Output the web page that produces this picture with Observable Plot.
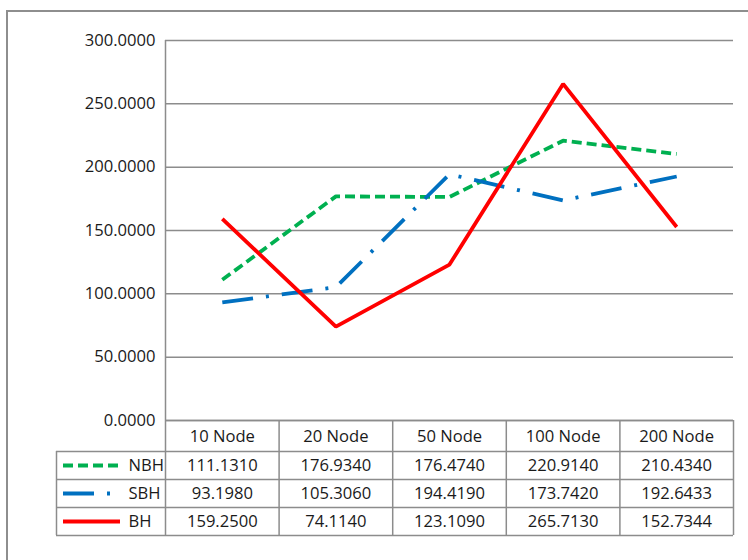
<!DOCTYPE html>
<html><head><meta charset="utf-8">
<script src="https://cdn.jsdelivr.net/npm/d3@7"></script>
<script src="https://cdn.jsdelivr.net/npm/@observablehq/plot@0.6"></script>
<style>
body{margin:0;background:#fff;overflow:hidden}
#wrap{position:relative;width:748px;height:560px;overflow:hidden;background:#fff}
#border{position:absolute;left:6px;top:10px;width:800px;height:600px;border:2px solid #8e8e8e;box-sizing:border-box}
#chart{position:absolute;left:0;top:0}
</style></head><body>
<div id="wrap"><div id="border"></div><div id="chart"></div></div>
<script>
// ---- data ----
const categories = ["10 Node", "20 Node", "50 Node", "100 Node", "200 Node"];
const seriesNames = ["NBH", "SBH", "BH"];
const nbh = [111.1310, 176.9340, 176.4740, 220.9140, 210.4340];
const sbh = [93.1980, 105.3060, 194.4190, 173.7420, 192.6433];
const bh  = [159.2500, 74.1140, 123.1090, 265.7130, 152.7344];
const yTicks = [0, 50, 100, 150, 200, 250, 300];

// ---- styles / layout ----
const seriesValues = [nbh, sbh, bh];
const seriesStyle = [
  {color: "#00B050", dash: "10,5", join: "round"},
  {color: "#0070C0", dash: "31,13,3,13", join: "round"},
  {color: "#FF0000", dash: null, join: "miter"}
];
const W = 748, H = 560;
const X0 = 165, X1 = 733, YT = 40, YB = 420;
const colW = (X1 - X0) / categories.length;
const xu = px => (px - X0) / colW - 0.5;          // pixel -> x units (table layout)
const yu = py => (YB - py) * 300 / (YB - YT);      // pixel -> y units (table layout)
const legendLeft = 56, tableBottom = 535;
const rowLines = [451, 479, 507, 535];
const rowCenters = [436, 465, 493, 521];
const grid = "#8c8c8c", ink = "#1a1a1a";
const fmt = d3.format(".4f");

const marks = [];
// gridlines
marks.push(Plot.ruleY(yTicks, {stroke: grid, strokeWidth: 1.5}));
// y tick labels
marks.push(Plot.text(yTicks, {x: -0.5, y: d => d, text: d => fmt(d), textAnchor: "end", dx: -10, fill: ink}));
// vertical axis / table column lines
marks.push(Plot.ruleX([-0.5], {y1: yu(tableBottom), y2: 300, stroke: grid, strokeWidth: 1.5}));
marks.push(Plot.ruleX(categories.map((c, i) => i + 0.5), {y1: yu(tableBottom), y2: 0, stroke: grid, strokeWidth: 1.5}));
marks.push(Plot.ruleX([xu(legendLeft)], {y1: yu(tableBottom), y2: yu(rowLines[0]), stroke: grid, strokeWidth: 1.5}));
// table horizontal lines
marks.push(Plot.ruleY([0], {x1: -0.5, x2: categories.length - 0.5, stroke: grid, strokeWidth: 1.5}));
marks.push(Plot.ruleY(rowLines.map(yu), {x1: xu(legendLeft), x2: categories.length - 0.5, stroke: grid, strokeWidth: 1.5}));
// header
marks.push(Plot.text(categories, {x: (d, i) => i, y: yu(rowCenters[0]), text: d => d, fill: ink}));
// rows
seriesNames.forEach((name, s) => {
  const st = seriesStyle[s];
  const yRow = yu(rowCenters[s + 1]);
  marks.push(Plot.text(seriesValues[s], {x: (d, i) => i, y: yRow, text: d => fmt(d), fill: ink}));
  marks.push(Plot.text([name], {x: xu(128), y: yRow, text: d => d, textAnchor: "start", fill: ink}));
  marks.push(Plot.ruleY([yRow], {x1: xu(63), x2: xu(120), stroke: st.color, strokeWidth: 3.8,
    strokeDasharray: st.dash, strokeLinecap: "butt"}));
});
// series lines
seriesNames.forEach((name, s) => {
  const st = seriesStyle[s];
  const rows = seriesValues[s].map((v, i) => ({i, v}));
  marks.push(Plot.line(rows, {x: "i", y: "v", stroke: st.color, strokeWidth: 3.8,
    strokeDasharray: st.dash, strokeLinecap: "butt", strokeLinejoin: st.join}));
});

const chart = Plot.plot({
  width: W, height: H,
  marginLeft: X0, marginRight: W - X1, marginTop: YT, marginBottom: H - YB,
  x: {type: "linear", domain: [-0.5, categories.length - 0.5], axis: null},
  y: {type: "linear", domain: [0, 300], axis: null},
  style: {fontFamily: "'Open Sans', sans-serif", fontSize: "16.6px", background: "transparent", overflow: "visible"},
  marks
});
document.getElementById("chart").appendChild(chart);
</script>
</body></html>
